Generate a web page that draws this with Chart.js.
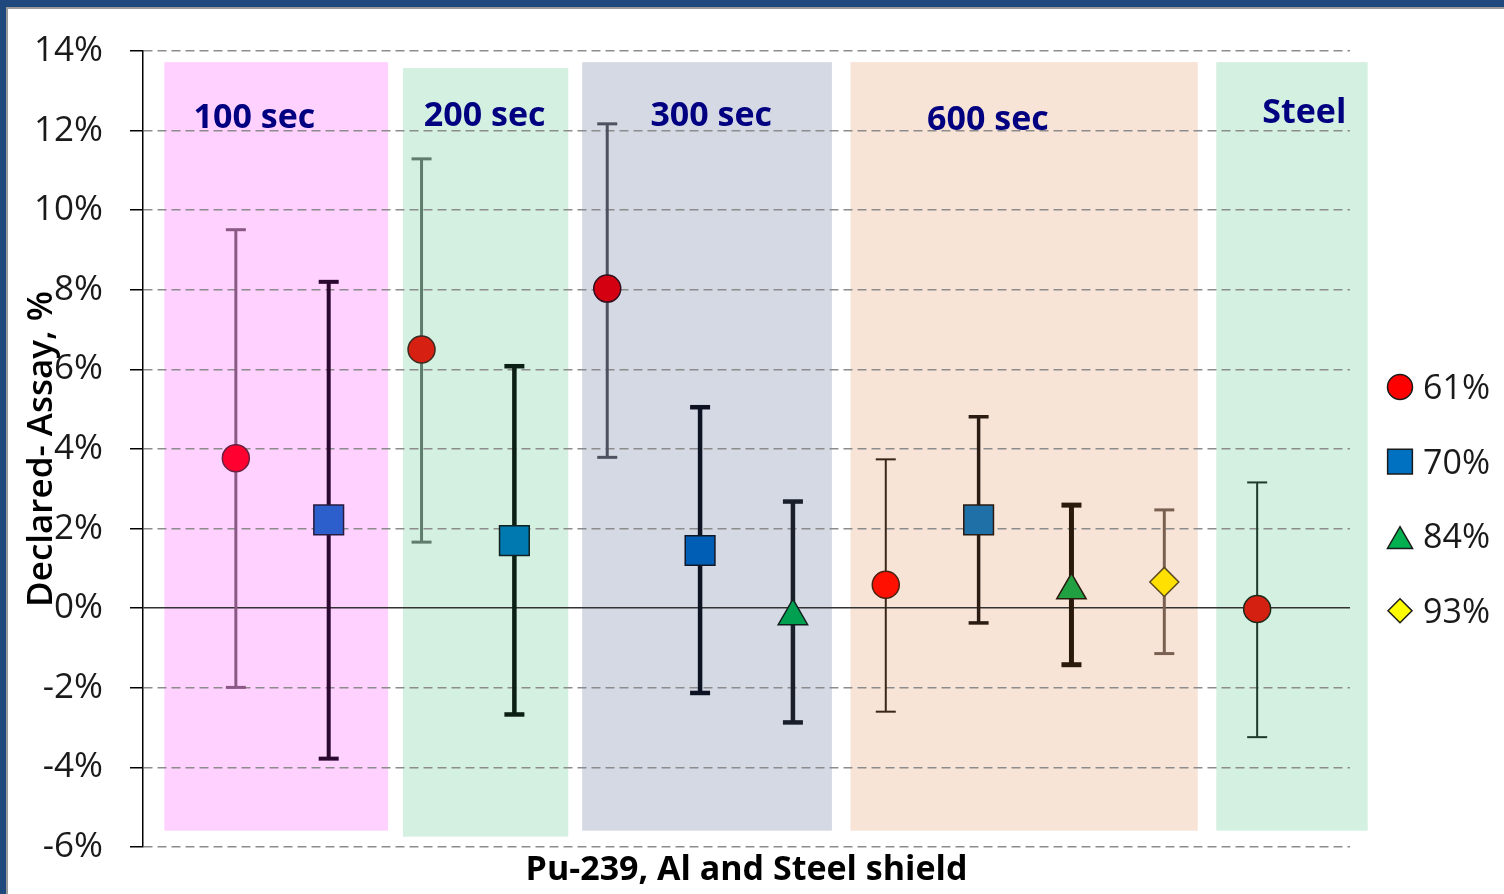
<!DOCTYPE html>
<html>
<head>
<meta charset="utf-8">
<style>
html,body{margin:0;padding:0;background:#fff;width:1504px;height:894px;overflow:hidden}
#wrap{position:relative;width:1504px;height:894px}
#c{position:absolute;left:0;top:0}
.fb{position:absolute;background:#1f497d}
.fg{position:absolute;background:#9a9a9a}
</style>
<script src="https://cdn.jsdelivr.net/npm/chart.js@4.4.1/dist/chart.umd.min.js"></script>
</head>
<body>
<div id="wrap">
<canvas id="c" width="1504" height="894"></canvas>
<div class="fb" style="left:0;top:0;width:1504px;height:7px"></div>
<div class="fb" style="left:0;top:0;width:6px;height:894px"></div>
<div class="fg" style="left:6px;top:7px;width:1498px;height:2px"></div>
<div class="fg" style="left:6px;top:7px;width:2px;height:887px"></div>
</div>
<script>
// ---------------- DATA ----------------
const bandNames  = ['100 sec', '200 sec', '300 sec', '600 sec', 'Steel'];
const bandStart  = [0.23, 2.80, 4.73, 7.62, 11.56];   // x-range of each group band
const bandEnd    = [2.64, 4.58, 7.42, 11.36, 13.19];

const seriesNames = ['61%', '70%', '84%', '93%'];

const measX      = [1, 2, 3, 4, 5, 6, 7, 8, 9, 10, 11, 12];
const measSeries = [0, 1, 0, 1, 0, 1, 2, 0, 1, 2, 3, 0];   // index into seriesNames
const measValue  = [3.77, 2.22, 6.50, 1.70, 8.03, 1.45, -0.20, 0.59, 2.22, 0.45, 0.66, -0.02];
const errHigh    = [9.51, 8.20, 11.29, 6.08, 12.17, 5.05, 2.68, 3.74, 4.81, 2.59, 2.47, 3.16];
const errLow     = [-1.99, -3.78, 1.66, -2.67, 3.79, -2.13, -2.87, -2.60, -0.37, -1.42, -1.14, -3.24];

const yMin = -6, yMax = 14, yStep = 2;
const xMin = 0, xMax = 13;
const xTitle = 'Pu-239, Al and Steel shield';
const yTitle = 'Declared- Assay, %';

// ---------------- STYLES ----------------
const FONT = '"Open Sans", "Liberation Sans", sans-serif';
const bandStyle = [
  {color:'#ffd1ff', top:13.72, bottom:-5.59, labelX:1.20, labelY:12.07, align:'center'},
  {color:'#d4f0e0', top:13.57, bottom:-5.74, labelX:3.68, labelY:12.12, align:'center'},
  {color:'#d5d9e4', top:13.72, bottom:-5.59, labelX:6.12, labelY:12.12, align:'center'},
  {color:'#f8e4d6', top:13.72, bottom:-5.59, labelX:9.10, labelY:12.02, align:'center'},
  {color:'#d4f0e0', top:13.72, bottom:-5.59, labelX:12.96, labelY:12.20, align:'right'}
];
const seriesStyle = [
  {pointStyle:'circle',   radius:13.5, legendRadius:12.5, legendFill:'#ff0000', legendDy:0},
  {pointStyle:'rect',     radius:21,   legendRadius:17.5, legendFill:'#0070c0', legendDy:0},
  {pointStyle:'triangle', radius:17,   legendRadius:14.5, legendFill:'#00b050', legendDy:5},
  {pointStyle:'rectRot',  radius:14.5, legendRadius:12,   legendFill:'#ffff00', legendDy:0}
];
const markerFill = ['#ff0030','#2d5fcc','#d62012','#0078b0','#d40012','#005fb5','#00a050','#ff1000','#2070a8','#20a040','#ffe000','#d42010'];
const markerEdge = ['#6a2040','#2a1a40','#3a2a20','#102020','#301020','#101828','#102020','#4a2010','#2a1a10','#2a1a10','#5a4a20','#1a2a1a'];
const errColor   = ['#8a5a84','#2a0830','#5f7d6d','#0b1f14','#4e5260','#0d1322','#1a1f2c','#3a2618','#2a1c12','#2a1a0c','#7a6050','#1e3a2a'];
const errWidth   = [3, 4, 3, 4.5, 3, 4.5, 4.5, 2, 3.5, 5, 3, 2];

// ---------------- DATASETS ----------------
const datasets = [];
seriesNames.forEach((name, s) => {
  const idx = measX.map((_, i) => i).filter(i => measSeries[i] === s);
  datasets.push({
    label: name,
    type: 'scatter',
    data: idx.map(i => ({x: measX[i], y: measValue[i]})),
    pointStyle: seriesStyle[s].pointStyle,
    pointRadius: seriesStyle[s].radius,
    pointHoverRadius: seriesStyle[s].radius,
    pointBackgroundColor: idx.map(i => markerFill[i]),
    pointBorderColor: idx.map(i => markerEdge[i]),
    pointBorderWidth: 1.5,
    showLine: false,
    order: 0
  });
});
measX.forEach((x, i) => {
  datasets.push({
    label: 'err' + i,
    type: 'line',
    showLine: true,
    data: [{x: x, y: errLow[i]}, {x: x, y: errHigh[i]}],
    borderColor: errColor[i],
    borderWidth: errWidth[i],
    pointStyle: 'line',
    pointRadius: 10,
    pointHoverRadius: 10,
    pointBorderColor: errColor[i],
    pointBackgroundColor: errColor[i],
    pointBorderWidth: errWidth[i],
    fill: false,
    tension: 0,
    order: 1
  });
});

// ---------------- PLUGIN: bands, band labels, legend ----------------
const decoPlugin = {
  id: 'deco',
  beforeDraw(chart) {
    const {ctx, scales: {x, y}} = chart;
    ctx.save();
    bandNames.forEach((n, i) => {
      const st = bandStyle[i];
      const x0 = x.getPixelForValue(bandStart[i]), x1 = x.getPixelForValue(bandEnd[i]);
      const y0 = y.getPixelForValue(st.top), y1 = y.getPixelForValue(st.bottom);
      ctx.fillStyle = st.color;
      ctx.fillRect(x0, y0, x1 - x0, y1 - y0);
    });
    ctx.restore();
  },
  beforeDatasetsDraw(chart) {
    const {ctx, scales: {x, y}} = chart;
    ctx.save();
    ctx.font = 'bold 34px ' + FONT;
    ctx.fillStyle = '#000080';
    ctx.textBaseline = 'alphabetic';
    bandNames.forEach((n, i) => {
      const st = bandStyle[i];
      ctx.textAlign = st.align;
      ctx.fillText(n, x.getPixelForValue(st.labelX), y.getPixelForValue(st.labelY));
    });
    ctx.restore();
  },
  afterDraw(chart) {
    const {ctx} = chart;
    const lx = 1400, ly0 = 387, gap = 74.6;
    ctx.save();
    seriesNames.forEach((name, s) => {
      const st = seriesStyle[s];
      const yy = ly0 + gap * s;
      ctx.fillStyle = st.legendFill;
      ctx.strokeStyle = '#1a1a1a';
      ctx.lineWidth = 1.5;
      Chart.helpers.drawPoint(ctx, {pointStyle: st.pointStyle, radius: st.legendRadius, rotation: 0, borderWidth: 1.5}, lx, yy + st.legendDy);
      ctx.fillStyle = '#1a1a1a';
      ctx.font = '34px ' + FONT;
      ctx.textAlign = 'left';
      ctx.textBaseline = 'alphabetic';
      ctx.fillText(name, 1423, yy + 12);
    });
    ctx.restore();
  }
};

function build() {
  new Chart(document.getElementById('c'), {
    type: 'scatter',
    data: {datasets},
    plugins: [decoPlugin],
    options: {
      responsive: false,
      animation: false,
      devicePixelRatio: 1,
      layout: {padding: {top: 51, right: 154, bottom: 0, left: 0}},
      plugins: {legend: {display: false}, tooltip: {enabled: false}, title: {display: false}},
      scales: {
        x: {
          type: 'linear', min: xMin, max: xMax, position: 'bottom',
          ticks: {display: false},
          grid: {display: false, drawTicks: false},
          border: {display: false},
          title: {display: true, text: xTitle, color: '#000',
                  font: {family: FONT, size: 34, weight: 'bold', lineHeight: 1.2},
                  padding: {top: 0, bottom: 3}},
          afterFit: s => { s.height = 47; }
        },
        y: {
          type: 'linear', min: yMin, max: yMax,
          ticks: {stepSize: yStep, callback: v => v + '%', color: '#1a1a1a',
                  font: {family: FONT, size: 35}, padding: 27},
          grid: {
            color: c => (c.tick && c.tick.value === 0) ? '#333333' : '#8c8c8c',
            lineWidth: 1.5, tickColor: '#000', tickLength: 13, tickWidth: 1.5, drawTicks: true
          },
          border: {display: true, color: '#000', width: 1.5,
                   dash: c => (c.tick && c.tick.value !== 0) ? [9, 5] : []},
          title: {display: true, text: yTitle, color: '#000',
                  font: {family: FONT, size: 35, weight: '600', lineHeight: 1.2},
                  padding: {top: 21, bottom: 0}},
          afterFit: s => { s.width = 143; s.paddingTop = 0; s.paddingBottom = 0; }
        }
      }
    }
  });
}
const fl = document.fonts ? Promise.all([
  document.fonts.load('34px "Open Sans"'),
  document.fonts.load('bold 34px "Open Sans"')
]).catch(() => null) : Promise.resolve();
fl.then(build, build);
</script>
</body>
</html>
